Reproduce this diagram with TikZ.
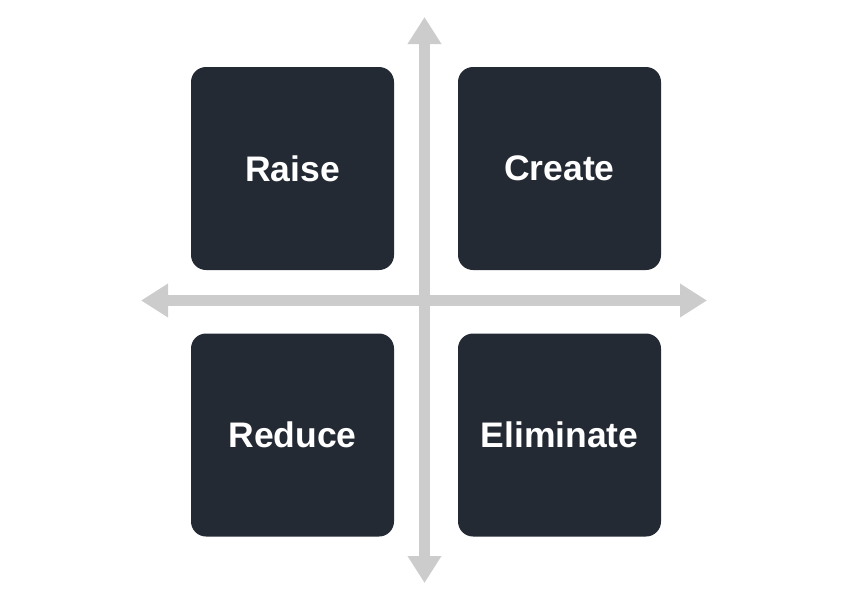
\documentclass[tikz,border=0pt]{standalone}
\usepackage{fontspec}
\setmainfont{Liberation Sans}
\usetikzlibrary{arrows.meta}
\definecolor{boxfill}{HTML}{232A34}
\definecolor{axisgray}{HTML}{CCCCCC}
\begin{document}
\begin{tikzpicture}[x=1pt,y=-1pt,
  quad/.style={rectangle,rounded corners=15pt,fill=boxfill,minimum width=203pt,minimum height=203pt,inner sep=0pt,text=white,font=\fontsize{35.5}{42}\selectfont\bfseries},
  axis/.style={draw=axisgray,line width=11pt,{Triangle[length=27pt,width=32pt]}-{Triangle[length=27pt,width=32pt]}}]
\useasboundingbox (0,0) rectangle (850,600);
\coordinate (top) at (424.5,17);
\coordinate (bottom) at (424.5,583);
\coordinate (left) at (141,300.5);
\coordinate (right) at (707,300.5);
\draw[axis] (bottom) -- (top);
\draw[axis] (left) -- (right);
\node[quad] (raise) at (292.5,168.5) {Raise};
\node[quad] (create) at (559.5,168.5) {Create};
\node[quad] (reduce) at (292.5,435) {Reduce};
\node[quad] (eliminate) at (559.5,435) {Eliminate};
\end{tikzpicture}
\end{document}
